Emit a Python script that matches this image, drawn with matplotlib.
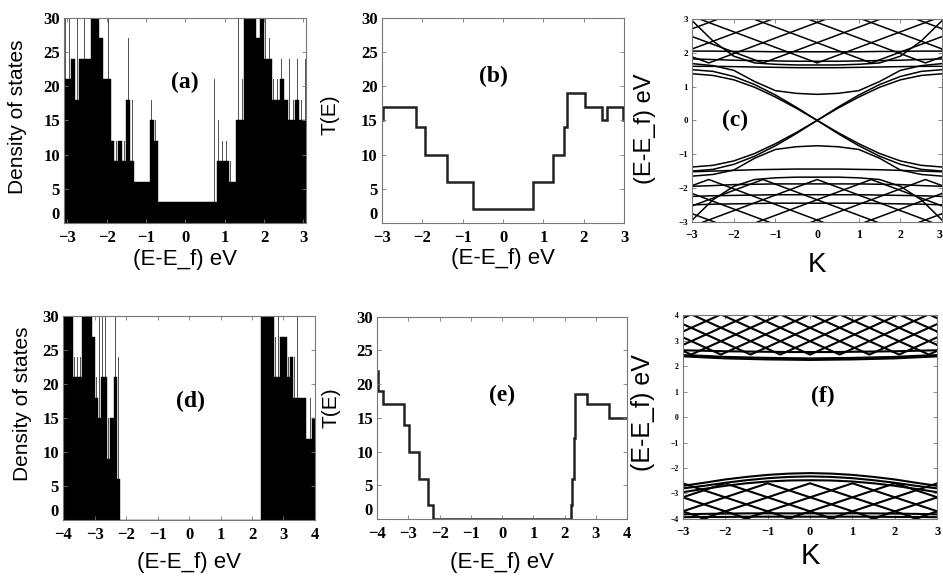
import numpy as np
import matplotlib
matplotlib.use("Agg")
import matplotlib.pyplot as plt

# ---------------- data ----------------
# (a) density of states, 0.1 eV bins
dos_a_energy = np.round(np.arange(-3.05, 3.06, 0.1), 2)
dos_a_black = [21, 21, 24, 18, 24, 24, 24, 30, 30, 27, 21, 21, 12, 9, 12, 9, 18, 9, 6, 6, 6, 6, 15, 12,
               3, 3, 3, 3, 3, 3, 3, 3, 3, 3, 3, 3, 3, 3, 3,
               9, 9, 9, 6, 6, 15, 15, 30, 30, 30, 27, 30, 24, 24, 18, 18, 21, 18, 15, 15, 18, 15, 15]
dos_a_spike = [30, 30, 0, 30, 0, 30, 0, 0, 0, 0, 0, 30, 0, 12, 0, 12, 27, 18, 0, 0, 0, 0, 18, 15,
               0, 0, 0, 0, 0, 0, 0, 0, 0, 0, 0, 0, 0, 0, 21,
               15, 12, 12, 9, 0, 30, 21, 0, 0, 0, 0, 0, 30, 27, 21, 21, 24, 0, 24, 18, 24, 18, 24]

# (b) transmission (step function)
t_b_edges = [-3.0, -2.98, -2.15, -1.93, -1.39, -0.74, 0.74, 1.23, 1.50, 1.57, 2.02, 2.44, 2.58, 2.97, 3.0]
t_b_levels = [15, 17, 14, 10, 6, 2, 6, 10, 14, 19, 17, 15, 17, 15]

# (c) band structure
band_k = [-3, -2.5, -2, -1.5, -1, -0.5, 0, 0.5, 1, 1.5, 2, 2.5, 3]
c_dirac = [
    [1.50, 1.45, 1.30, 1.06, 0.75, 0.39, 0.00, -0.39, -0.75, -1.06, -1.30, -1.45, -1.50],
    [1.38, 1.33, 1.20, 0.98, 0.69, 0.36, 0.00, -0.36, -0.69, -0.98, -1.20, -1.33, -1.38],
    [-1.50, -1.45, -1.30, -1.06, -0.75, -0.39, 0.00, 0.39, 0.75, 1.06, 1.30, 1.45, 1.50],
    [-1.38, -1.33, -1.20, -0.98, -0.69, -0.36, 0.00, 0.36, 0.69, 0.98, 1.20, 1.33, 1.38],
]
c_smooth = [
    [1.68, 1.62, 1.48, 1.15, 0.88, 0.80, 0.77, 0.80, 0.88, 1.15, 1.48, 1.62, 1.68],
    [1.60, 1.60, 1.59, 1.58, 1.57, 1.56, 1.56, 1.56, 1.57, 1.58, 1.59, 1.60, 1.60],
    [1.82, 1.80, 1.78, 1.77, 1.76, 1.75, 1.75, 1.75, 1.76, 1.77, 1.78, 1.80, 1.82],
    [2.05, 2.05, 2.04, 2.04, 2.03, 2.03, 2.03, 2.03, 2.03, 2.04, 2.04, 2.05, 2.05],
    [2.95, 2.35, 1.90, 1.70, 1.66, 1.64, 1.64, 1.64, 1.66, 1.70, 1.90, 2.35, 2.95],
    [-1.65, -1.60, -1.47, -1.12, -0.86, -0.78, -0.75, -0.78, -0.86, -1.12, -1.47, -1.60, -1.65],
    [-1.52, -1.50, -1.48, -1.46, -1.45, -1.44, -1.44, -1.44, -1.45, -1.46, -1.48, -1.50, -1.52],
    [-1.95, -1.93, -1.90, -1.89, -1.88, -1.88, -1.88, -1.88, -1.88, -1.89, -1.90, -1.93, -1.95],
    [-2.25, -2.23, -2.22, -2.21, -2.20, -2.20, -2.20, -2.20, -2.20, -2.21, -2.22, -2.23, -2.25],
    [-2.50, -2.48, -2.47, -2.46, -2.45, -2.45, -2.45, -2.45, -2.45, -2.46, -2.47, -2.48, -2.50],
    [-2.95, -2.35, -1.95, -1.75, -1.70, -1.68, -1.68, -1.68, -1.70, -1.75, -1.95, -2.35, -2.95],
]
# folded (V-shaped) subbands: vertex K, vertex E, E at K=-3, E at K=+3
c_cond_vk = [-5.2, -3.9, -2.6, -1.3, 0.0, 1.3, 2.6, 3.9, 5.2]
c_cond_ve = [1.7, 1.7, 1.7, 1.7, 1.7, 1.7, 1.7, 1.7, 1.7]
c_cond_left = [2.71, 2.11, 1.88, 2.48, 3.08, 3.68, 4.28, 4.87, 5.47]
c_cond_right = [5.47, 4.87, 4.28, 3.68, 3.08, 2.48, 1.88, 2.11, 2.71]
c_val_vk = [-5.2, -3.9, -2.6, -1.3, 0.0, 1.3, 2.6, 3.9, 5.2]
c_val_ve = [-1.75, -1.75, -1.75, -1.75, -1.75, -1.75, -1.75, -1.75, -1.75]
c_val_left = [-2.76, -2.16, -1.93, -2.53, -3.13, -3.73, -4.33, -4.92, -5.52]
c_val_right = [-5.52, -4.92, -4.33, -3.73, -3.13, -2.53, -1.93, -2.16, -2.76]

# (d) density of states, 0.1 eV bins
dos_d_energy = np.round(np.arange(-3.95, 3.96, 0.1), 2)
dos_d_black = ([30, 30, 30, 21, 21, 21, 30, 30, 30, 27, 18, 15, 21, 21, 9, 15, 21, 6]
               + [0] * 45
               + [30, 30, 30, 30, 21, 21, 27, 27, 21, 24, 18, 18, 18, 18, 12, 12, 15])
dos_d_spike = ([0, 0, 0, 24, 24, 24, 0, 0, 0, 30, 21, 30, 30, 30, 15, 18, 30, 24]
               + [0] * 45
               + [0, 0, 0, 0, 27, 30, 0, 0, 24, 0, 24, 30, 0, 0, 18, 18, 0])

# (e) transmission (step function)
t_e_edges = [-4.0, -3.97, -3.81, -3.13, -2.97, -2.65, -2.36, -2.22, 2.20, 2.25, 2.29, 2.33, 2.72, 3.41, 4.0]
t_e_levels = [22, 19, 17, 14, 10, 6, 2, 0, 2, 6, 12, 18.5, 17, 15]

# (f) band structure
f_smooth = [
    [2.38, 2.34, 2.30, 2.28, 2.26, 2.25, 2.24, 2.25, 2.26, 2.28, 2.30, 2.34, 2.38],
    [2.43, 2.40, 2.36, 2.34, 2.32, 2.31, 2.30, 2.31, 2.32, 2.34, 2.36, 2.40, 2.43],
    [2.62, 2.60, 2.58, 2.57, 2.56, 2.55, 2.55, 2.55, 2.56, 2.57, 2.58, 2.60, 2.62],
    [-2.70, -2.58, -2.45, -2.35, -2.27, -2.22, -2.20, -2.22, -2.27, -2.35, -2.45, -2.58, -2.70],
    [-2.80, -2.70, -2.58, -2.48, -2.40, -2.35, -2.33, -2.35, -2.40, -2.48, -2.58, -2.70, -2.80],
    [-2.95, -2.82, -2.70, -2.60, -2.53, -2.49, -2.48, -2.49, -2.53, -2.60, -2.70, -2.82, -2.95],
    [-3.82, -3.80, -3.79, -3.78, -3.78, -3.78, -3.78, -3.78, -3.78, -3.78, -3.79, -3.80, -3.82],
    [-3.93, -3.92, -3.92, -3.91, -3.91, -3.91, -3.91, -3.91, -3.91, -3.91, -3.92, -3.92, -3.93],
]
f_cond_vk = [-4.9, -4.2, -3.5, -2.8, -2.1, -1.4, -0.7, 0.0, 0.7, 1.4, 2.1, 2.8, 3.5, 4.2, 4.9]
f_cond_ve = [2.45] * 15
f_cond_left = [3.88, 3.35, 2.83, 2.60, 3.13, 3.65, 4.18, 4.70, 5.23, 5.75, 6.28, 6.80, 7.33, 7.85, 8.38]
f_cond_right = [8.38, 7.85, 7.33, 6.80, 6.28, 5.75, 5.23, 4.70, 4.18, 3.65, 3.13, 2.60, 2.83, 3.35, 3.88]
f_val_vk = [-5, -4, -3, -2, -1, 0, 1, 2, 3, 4, 5]
f_val_ve = [-2.6] * 11
f_val_left = [-3.70, -3.15, -2.60, -3.15, -3.70, -4.25, -4.80, -5.35, -5.90, -6.45, -7.00]
f_val_right = [-7.00, -6.45, -5.90, -5.35, -4.80, -4.25, -3.70, -3.15, -2.60, -3.15, -3.70]

# ---------------- styling ----------------
plt.rcParams["font.family"] = ["Liberation Serif", "DejaVu Serif"]
plt.rcParams["font.weight"] = "bold"
SANS = ["Liberation Sans", "DejaVu Sans"]
FRAME = "#777777"

fig = plt.figure(figsize=(9.43, 5.76), dpi=100)


def style(ax, xsize=12, ysize=12, lift_zero=False):
    for s in ax.spines.values():
        s.set_color(FRAME)
        s.set_linewidth(0.8)
    ax.tick_params(direction="in", length=3, width=0.6, color=FRAME,
                   top=True, right=True)
    ax.tick_params(axis="x", labelsize=xsize, pad=5)
    ax.tick_params(axis="y", labelsize=ysize, pad=3)
    for lab in ax.get_xticklabels() + ax.get_yticklabels():
        lab.set_fontweight("bold")
    if lift_zero:
        ax.get_yticklabels()[0].set_verticalalignment("bottom")


def panel_label(ax, x, y, s):
    ax.text(x, y, s, ha="center", va="center", fontsize=17, fontweight="bold",
            family=["Liberation Serif", "DejaVu Serif"])


def band_v(ax, vk, ve, left, right, lw):
    for k0, e0, el, er in zip(vk, ve, left, right):
        ax.plot([-3, k0, 3], [el, e0, er], color="black", lw=lw)


# (a)
ax = fig.add_axes([0.068, 0.613, 0.257, 0.356])
ax.bar(dos_a_energy, dos_a_spike, width=0.025, color="#555555", linewidth=0)
ax.bar(dos_a_energy, dos_a_black, width=0.1, color="black", edgecolor="black", linewidth=0.3)
ax.set_xlim(-3.08, 3.08)
ax.set_ylim(0, 30)
ax.set_xticks([-3, -2, -1, 0, 1, 2, 3])
ax.set_yticks([0, 5, 10, 15, 20, 25, 30])
style(ax, lift_zero=True)
ax.set_ylabel("Density of states", family=SANS, fontweight="normal", fontsize=15)
ax.set_xlabel("(E-E_f) eV", family=SANS, fontweight="normal", fontsize=16)
ax.yaxis.set_label_coords(-0.153, 0.517)
ax.xaxis.set_label_coords(0.5, -0.125)
panel_label(ax, 0.0, 20.5, "(a)")

# (b)
ax = fig.add_axes([0.405, 0.613, 0.257, 0.356])
ax.stairs(t_b_levels, t_b_edges, baseline=None, color="#222222", lw=1.8)
ax.set_xlim(-3, 3)
ax.set_ylim(0, 30)
ax.set_xticks([-3, -2, -1, 0, 1, 2, 3])
ax.set_yticks([0, 5, 10, 15, 20, 25, 30])
style(ax, lift_zero=True)
ax.set_ylabel("T(E)", family=SANS, fontweight="normal", fontsize=15)
ax.set_xlabel("(E-E_f) eV", family=SANS, fontweight="normal", fontsize=16)
ax.yaxis.set_label_coords(-0.174, 0.53)
ax.xaxis.set_label_coords(0.5, -0.12)
panel_label(ax, -0.25, 21.4, "(b)")

# (c)
ax = fig.add_axes([0.734, 0.615, 0.265, 0.352])
for e in c_dirac + c_smooth:
    ax.plot(band_k, e, color="black", lw=1.1)
band_v(ax, c_cond_vk, c_cond_ve, c_cond_left, c_cond_right, 1.1)
band_v(ax, c_val_vk, c_val_ve, c_val_left, c_val_right, 1.1)
ax.set_xlim(-3, 3)
ax.set_ylim(-3, 3)
ax.set_xticks([-3, -2, -1, 0, 1, 2, 3])
ax.set_yticks([-3, -2, -1, 0, 1, 2, 3])
style(ax, xsize=8.5, ysize=6.5)
ax.get_xticklabels()[-1].set_horizontalalignment("right")
ax.set_ylabel("(E-E_f) eV", family=SANS, fontweight="normal", fontsize=17)
ax.set_xlabel("K", family=SANS, fontweight="normal", fontsize=20)
ax.yaxis.set_label_coords(-0.144, 0.46)
ax.xaxis.set_label_coords(0.5, -0.15)
panel_label(ax, -1.96, 0.0, "(c)")

# (d)
ax = fig.add_axes([0.067, 0.097, 0.267, 0.354])
ax.bar(dos_d_energy, dos_d_spike, width=0.025, color="#555555", linewidth=0)
ax.bar(dos_d_energy, dos_d_black, width=0.1, color="black", edgecolor="black", linewidth=0.3)
ax.set_xlim(-4, 4)
ax.set_ylim(0, 30)
ax.set_xticks([-4, -3, -2, -1, 0, 1, 2, 3, 4])
ax.set_yticks([0, 5, 10, 15, 20, 25, 30])
style(ax, lift_zero=True)
ax.set_ylabel("Density of states", family=SANS, fontweight="normal", fontsize=15)
ax.set_xlabel("(E-E_f) eV", family=SANS, fontweight="normal", fontsize=16)
ax.yaxis.set_label_coords(-0.123, 0.57)
ax.xaxis.set_label_coords(0.5, -0.155)
panel_label(ax, 0.03, 17.4, "(d)")

# (e)
ax = fig.add_axes([0.400, 0.099, 0.265, 0.351])
ax.stairs(t_e_levels, t_e_edges, baseline=None, color="#222222", lw=1.8)
ax.set_xlim(-4, 4)
ax.set_ylim(0, 30)
ax.set_xticks([-4, -3, -2, -1, 0, 1, 2, 3, 4])
ax.set_yticks([0, 5, 10, 15, 20, 25, 30])
style(ax, lift_zero=True)
ax.set_ylabel("T(E)", family=SANS, fontweight="normal", fontsize=15)
ax.set_xlabel("(E-E_f) eV", family=SANS, fontweight="normal", fontsize=16)
ax.yaxis.set_label_coords(-0.148, 0.55)
ax.xaxis.set_label_coords(0.5, -0.165)
panel_label(ax, 0.0, 18.4, "(e)")

# (f)
ax = fig.add_axes([0.724, 0.099, 0.270, 0.354])
for e in f_smooth:
    ax.plot(band_k, e, color="black", lw=1.5)
band_v(ax, f_cond_vk, f_cond_ve, f_cond_left, f_cond_right, 1.5)
band_v(ax, f_val_vk, f_val_ve, f_val_left, f_val_right, 1.5)
ax.set_xlim(-3, 3)
ax.set_ylim(-4, 4)
ax.set_xticks([-3, -2, -1, 0, 1, 2, 3])
ax.set_yticks([-4, -3, -2, -1, 0, 1, 2, 3, 4])
style(ax, xsize=9, ysize=5.5)
ax.set_ylabel("(E-E_f) eV", family=SANS, fontweight="normal", fontsize=18)
ax.set_xlabel("K", family=SANS, fontweight="normal", fontsize=21)
ax.yaxis.set_label_coords(-0.11, 0.52)
ax.xaxis.set_label_coords(0.5, -0.115)
panel_label(ax, 0.29, 0.8, "(f)")

fig.savefig("out.png", dpi=100)
